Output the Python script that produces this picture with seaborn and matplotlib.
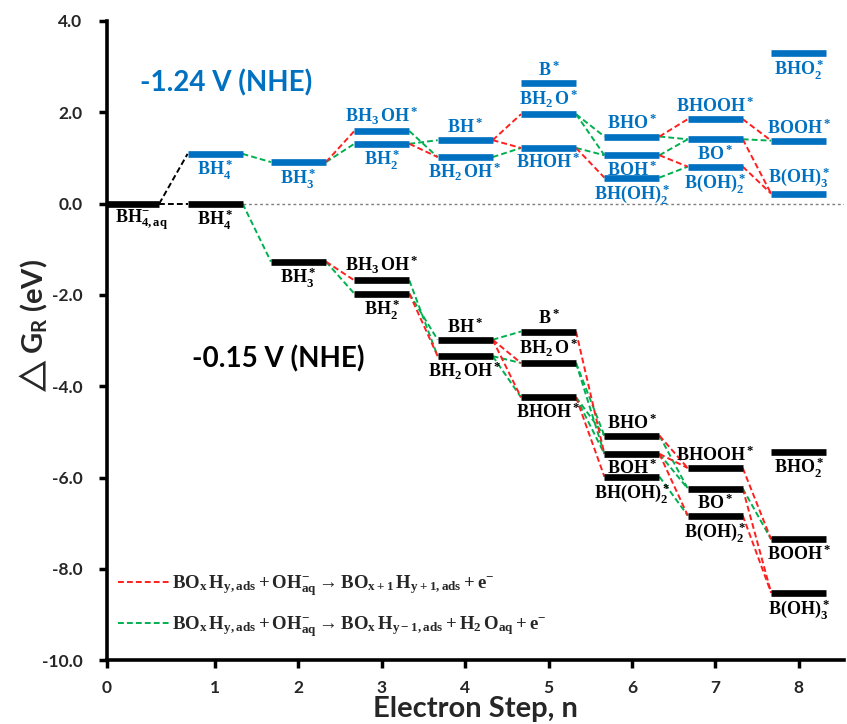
import matplotlib
matplotlib.use('Agg')
import matplotlib.pyplot as plt
from matplotlib.lines import Line2D
import seaborn as sns
import pandas as pd

# free-energy levels at -1.24 V (NHE)
blue_names = ['BH4', 'BH3', 'BH3OH', 'BH2', 'BH', 'BH2OH', 'B', 'BH2O', 'BHOH',
              'BHO', 'BOH', 'BH(OH)2', 'BHOOH', 'BO', 'B(OH)2', 'BHO2', 'BOOH', 'B(OH)3']
blue_steps = [1, 2, 3, 3, 4, 4, 5, 5, 5, 6, 6, 6, 7, 7, 7, 8, 8, 8]
blue_energy = [1.09, 0.91, 1.59, 1.31, 1.39, 1.02, 2.65, 1.96, 1.22,
               1.47, 1.06, 0.57, 1.85, 1.41, 0.81, 3.29, 1.38, 0.22]
blue_label_pos = ['b', 'b', 'a', 'b', 'a', 'b', 'a', 'a', 'b',
                  'a', 'b', 'b', 'a', 'b', 'b', 'b', 'a', 'a']

# free-energy levels at -0.15 V (NHE)
black_names = ['BH4aq', 'BH4', 'BH3', 'BH3OH', 'BH2', 'BH', 'BH2OH', 'B', 'BH2O', 'BHOH',
               'BHO', 'BOH', 'BH(OH)2', 'BHOOH', 'BO', 'B(OH)2', 'BHO2', 'BOOH', 'B(OH)3']
black_steps = [0, 1, 2, 3, 3, 4, 4, 5, 5, 5, 6, 6, 6, 7, 7, 7, 8, 8, 8]
black_energy = [0.0, 0.0, -1.27, -1.68, -1.97, -2.98, -3.34, -2.80, -3.49, -4.24,
                -5.08, -5.48, -5.98, -5.79, -6.24, -6.83, -5.43, -7.35, -8.52]
black_label_pos = ['b', 'b', 'b', 'a', 'b', 'a', 'b', 'a', 'a', 'b',
                   'a', 'b', 'b', 'a', 'b', 'b', 'b', 'b', 'b']

# reaction paths: r = add OH, g = remove H, k = adsorption
blue_links = [('BH4aq', 'BH4', 'k'), ('BH4', 'BH3', 'g'),
              ('BH3', 'BH3OH', 'r'), ('BH3', 'BH2', 'g'),
              ('BH3OH', 'BH2OH', 'g'), ('BH2', 'BH', 'g'), ('BH2', 'BH2OH', 'r'),
              ('BH', 'BH2O', 'r'), ('BH', 'BHOH', 'r'), ('BH2OH', 'BHOH', 'g'),
              ('BH2O', 'BHO', 'g'), ('BH2O', 'BOH', 'g'), ('BHOH', 'BOH', 'g'),
              ('BHOH', 'BH(OH)2', 'r'),
              ('BHO', 'BHOOH', 'r'), ('BHO', 'BO', 'g'), ('BOH', 'BO', 'g'),
              ('BOH', 'B(OH)2', 'r'), ('BH(OH)2', 'B(OH)2', 'g'),
              ('BHOOH', 'BOOH', 'r'), ('BO', 'BOOH', 'g'), ('BO', 'B(OH)3', 'r'),
              ('B(OH)2', 'B(OH)3', 'r')]
black_links = [('BH4aq', 'BH4', 'k'), ('BH4', 'BH3', 'g'),
               ('BH3', 'BH3OH', 'r'), ('BH3', 'BH2', 'g'),
               ('BH3OH', 'BH2OH', 'g'), ('BH2', 'BH', 'g'), ('BH2', 'BH2OH', 'r'),
               ('BH', 'B', 'g'), ('BH', 'BH2O', 'r'), ('BH', 'BHOH', 'r'),
               ('BH2OH', 'BH2O', 'g'), ('BH2OH', 'BHOH', 'g'),
               ('B', 'BOH', 'r'), ('BH2O', 'BHO', 'g'), ('BH2O', 'BOH', 'g'),
               ('BHOH', 'BHO', 'g'), ('BHOH', 'BOH', 'g'), ('BHOH', 'BH(OH)2', 'r'),
               ('BHO', 'BHOOH', 'r'), ('BHO', 'BO', 'g'), ('BOH', 'BHOOH', 'r'),
               ('BOH', 'BO', 'g'), ('BOH', 'B(OH)2', 'r'), ('BH(OH)2', 'B(OH)2', 'g'),
               ('BHOOH', 'BOOH', 'r'), ('BO', 'BOOH', 'g'), ('BO', 'B(OH)3', 'r'),
               ('B(OH)2', 'B(OH)3', 'r')]

tex = {
    'BH4aq': r'$\mathrm{BH_{4,aq}^{-}}$', 'BH4': r'$\mathrm{BH_4^*}$',
    'BH3': r'$\mathrm{BH_3^*}$', 'BH3OH': r'$\mathrm{BH_3\,OH^*}$',
    'BH2': r'$\mathrm{BH_2^*}$', 'BH': r'$\mathrm{BH^*}$',
    'BH2OH': r'$\mathrm{BH_2\,OH^*}$', 'B': r'$\mathrm{B^*}$',
    'BH2O': r'$\mathrm{BH_2\,O^*}$', 'BHOH': r'$\mathrm{BHOH^*}$',
    'BHO': r'$\mathrm{BHO^*}$', 'BOH': r'$\mathrm{BOH^*}$',
    'BH(OH)2': r'$\mathrm{BH(OH)_2^*}$', 'BHOOH': r'$\mathrm{BHOOH^*}$',
    'BO': r'$\mathrm{BO^*}$', 'B(OH)2': r'$\mathrm{B(OH)_2^*}$',
    'BHO2': r'$\mathrm{BHO_2^*}$', 'BOOH': r'$\mathrm{BOOH^*}$',
    'B(OH)3': r'$\mathrm{B(OH)_3^*}$',
}

legend_labels = [
    r'$\mathrm{BO_x\,H_{y,ads} + OH_{aq}^{-} \rightarrow BO_{x+1}\,H_{y+1,ads} + e^{-}}$',
    r'$\mathrm{BO_x\,H_{y,ads} + OH_{aq}^{-} \rightarrow BO_x\,H_{y-1,ads} + H_2\,O_{aq} + e^{-}}$',
]

BLUE = '#0070C0'
link_colors = {'r': '#FF1F1F', 'g': '#00B050', 'k': '#000000'}
HW = 0.33          # half width of a level bar
DASH = (0, (3, 1.6))

sns.set_theme(style='ticks')
plt.rcParams['font.family'] = ['Lato', 'DejaVu Sans']
plt.rcParams['font.weight'] = 'bold'
plt.rcParams['mathtext.fontset'] = 'custom'
plt.rcParams['mathtext.rm'] = 'Liberation Serif:bold'
plt.rcParams['mathtext.it'] = 'Liberation Serif:bold'
plt.rcParams['mathtext.bf'] = 'Liberation Serif:bold'

fig = plt.figure(figsize=(8.47, 7.24), dpi=100)
ax = fig.add_axes([0.126, 0.088, 0.871, 0.883])

tables = {
    'blue': dict(zip(blue_names, zip(blue_steps, blue_energy))),
    'black': dict(zip(black_names, zip(black_steps, black_energy))),
}


def lookup(pot, name):
    return tables[pot].get(name, tables['black'].get(name))


rows = []
for pot, links in [('blue', blue_links), ('black', black_links)]:
    for i, (src, dst, kind) in enumerate(links):
        s0, e0 = lookup(pot, src)
        s1, e1 = lookup(pot, dst)
        seg = '%s%d' % (pot, i)
        rows.append({'seg': seg, 'kind': kind, 'x': s0 + HW, 'y': e0})
        rows.append({'seg': seg, 'kind': kind, 'x': s1 - HW, 'y': e1})
links_df = pd.DataFrame(rows)

sns.lineplot(data=links_df, x='x', y='y', hue='kind', units='seg',
             estimator=None, sort=False, palette=link_colors,
             linewidth=1.4, linestyle=DASH, legend=False, ax=ax, zorder=2)

# zero reference line
ax.axhline(0, xmin=(1 + HW + 0.3) / 8.85, color='#7f7f7f', lw=1.0,
           ls=(0, (2, 2)), zorder=1)

for names, steps, energy, pos, color in [
        (blue_names, blue_steps, blue_energy, blue_label_pos, BLUE),
        (black_names, black_steps, black_energy, black_label_pos, 'black')]:
    ax.hlines(energy, [s - HW for s in steps], [s + HW for s in steps],
              colors=color, lw=4.8, zorder=3)
    for n, s, e, p in zip(names, steps, energy, pos):
        dx = 0.12 if n == 'BH4aq' else 0.0
        if p == 'a':
            ax.text(s + dx, e + 0.09, tex[n], ha='center', va='bottom',
                    color=color, fontsize=13)
        else:
            ax.text(s + dx, e - 0.09, tex[n], ha='center', va='top',
                    color=color, fontsize=13)

ax.text(0.1, 2.64, '-1.24 V (NHE)', color=BLUE, fontsize=20,
        fontweight='bold', va='center', ha='left')
ax.text(0.72, -3.39, '-0.15 V (NHE)', color='black', fontsize=20,
        fontweight='bold', va='center', ha='left')

handles = [Line2D([], [], color=link_colors['r'], lw=1.4, ls=DASH),
           Line2D([], [], color=link_colors['g'], lw=1.4, ls=DASH)]
ax.legend(handles, legend_labels, loc='lower left', bbox_to_anchor=(0.005, 0.022),
          frameon=False, fontsize=13.5, handlelength=2.7, handletextpad=0.2,
          labelspacing=0.85, borderaxespad=0)

ax.set_xlim(-0.3, 8.55)
ax.set_ylim(-10, 4)
ax.set_xticks([-0.3, 1, 2, 3, 4, 5, 6, 7, 8])
ax.set_xticklabels([str(i) for i in range(9)])
ax.set_yticks(range(-10, 5, 2))
ax.set_yticklabels(['%.1f' % v for v in range(-10, 5, 2)])
ax.tick_params(axis='both', direction='out', width=2.5, length=5.5,
               labelsize=12.5, color='black')
ax.tick_params(axis='y', pad=12)
ax.tick_params(axis='x', pad=9)
for lab in ax.get_xticklabels() + ax.get_yticklabels():
    lab.set_fontweight('bold')
for side in ['left', 'bottom']:
    ax.spines[side].set_linewidth(2.6)
    ax.spines[side].set_color('black')
sns.despine(ax=ax)

ax.set_xlabel('Electron Step, n', fontsize=21, fontweight='bold', labelpad=0)
ax.set_ylabel(r'$\triangle$G$_\mathregular{R}$ (eV)', fontsize=21, fontweight='bold')
ax.yaxis.set_label_coords(-0.077, 0.52)

fig.savefig('out.png', dpi=100)
